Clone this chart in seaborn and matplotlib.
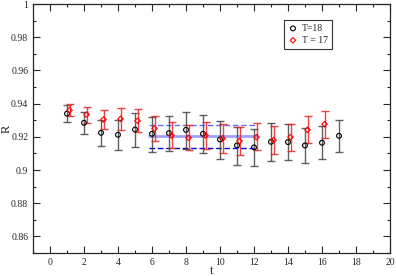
import numpy as np
import pandas as pd
import matplotlib
matplotlib.use("Agg")
import matplotlib.pyplot as plt
import seaborn as sns
from matplotlib.ticker import MultipleLocator

t18 = [1, 2, 3, 4, 5, 6, 7, 8, 9, 10, 11, 12, 13, 14, 15, 16, 17]
r18 = [0.934, 0.9284, 0.9224, 0.9212, 0.9244, 0.9218, 0.9222, 0.9242, 0.9218, 0.9184,
       0.9148, 0.9136, 0.917, 0.9168, 0.9148, 0.9164, 0.9206]
r18_hi = [0.9392, 0.9348, 0.930, 0.930, 0.9344, 0.932, 0.9326, 0.9352, 0.933, 0.9294,
          0.926, 0.9248, 0.9282, 0.9278, 0.9252, 0.9264, 0.930]
r18_lo = [0.929, 0.9218, 0.9146, 0.9122, 0.914, 0.911, 0.9114, 0.9128, 0.9104, 0.9068,
          0.9032, 0.9024, 0.9056, 0.906, 0.9044, 0.9064, 0.9106]

t17 = [1.15, 2.15, 3.15, 4.15, 5.15, 6.15, 7.15, 8.15, 9.15, 10.15, 11.15, 12.15, 13.15,
       14.15, 15.15, 16.15]
r17 = [0.936, 0.9334, 0.9304, 0.9308, 0.9296, 0.925, 0.9208, 0.9194, 0.9208, 0.919,
       0.9174, 0.9198, 0.918, 0.9198, 0.9242, 0.9276]
r17_hi = [0.9396, 0.938, 0.936, 0.9374, 0.9366, 0.9324, 0.9288, 0.9272, 0.9288, 0.9276,
          0.926, 0.9282, 0.9264, 0.9278, 0.9324, 0.9354]
r17_lo = [0.9324, 0.9284, 0.925, 0.9242, 0.9228, 0.9176, 0.9134, 0.912, 0.9124, 0.9104,
          0.9088, 0.9118, 0.9096, 0.9114, 0.9162, 0.9194]

fit_range = [5.8, 12.2]
fit_val = 0.9204
fit_hi = 0.927
fit_lo = 0.9134

sns.set_style("ticks")
plt.rcParams['font.family'] = ['Liberation Serif', 'DejaVu Serif']

fig = plt.figure(figsize=(3.96, 2.76), dpi=100)
ax = fig.add_axes([33/396, 23/276, 357/396, 249/276])

# fit band lines
ax.plot(fit_range, [fit_val]*2, color='#9090ff', lw=2.0, alpha=0.85, zorder=1)
ax.plot(fit_range, [fit_hi]*2, color='#3a3aff', lw=1.0, ls=(0, (4, 2)), alpha=0.75, zorder=1)
ax.plot(fit_range, [fit_lo]*2, color='#0000ee', lw=1.0, ls=(0, (4, 2)), zorder=1)

r18a = np.array(r18); r17a = np.array(r17)
ax.errorbar(t18, r18, yerr=[r18a - np.array(r18_lo), np.array(r18_hi) - r18a],
            fmt='none', ecolor='#444444', elinewidth=1.0, capsize=3, capthick=1.0, alpha=0.85, zorder=2)
ax.errorbar(t17, r17, yerr=[r17a - np.array(r17_lo), np.array(r17_hi) - r17a],
            fmt='none', ecolor='#ee2222', elinewidth=1.0, capsize=3, capthick=1.0, alpha=0.85, zorder=2)

df18 = pd.DataFrame({'t': t18, 'R': r18})
df17 = pd.DataFrame({'t': t17, 'R': r17})
sns.scatterplot(data=df18, x='t', y='R', ax=ax, marker='o', s=12, facecolor='none',
                edgecolor='black', linewidth=0.8, label='T=18', zorder=3)
sns.scatterplot(data=df17, x='t', y='R', ax=ax, marker='D', s=8, facecolor='none',
                edgecolor='red', linewidth=0.8, label='T = 17', zorder=3)

ax.set_xlim(-1, 20)
ax.set_ylim(0.85, 1.0)
ax.xaxis.set_major_locator(MultipleLocator(2))
ax.xaxis.set_minor_locator(MultipleLocator(1))
ax.yaxis.set_minor_locator(MultipleLocator(0.01))
ax.set_yticks([0.86, 0.88, 0.9, 0.92, 0.94, 0.96, 0.98, 1.0])
ax.set_yticklabels(['0.86', '0.88', '0.9', '0.92', '0.94', '0.96', '0.98', '1'])
ax.tick_params(which='both', direction='in', top=True, right=True, labelsize=7, width=0.8)
ax.tick_params(which='major', length=5)
ax.tick_params(which='minor', length=2.5)
for s in ax.spines.values():
    s.set_linewidth(0.9)
ax.set_xlabel('t', fontsize=9, labelpad=-1)
ax.set_ylabel('R', fontsize=9)
ax.yaxis.set_label_coords(-0.058, 0.5)

leg = ax.legend(loc='upper left', bbox_to_anchor=(0.69, 0.955), fontsize=7, frameon=True,
                fancybox=False, edgecolor='black', handletextpad=0.4, borderpad=0.4,
                labelspacing=0.3, handlelength=1.0)
leg.get_frame().set_linewidth(0.8)

fig.savefig('out.png', dpi=100)
